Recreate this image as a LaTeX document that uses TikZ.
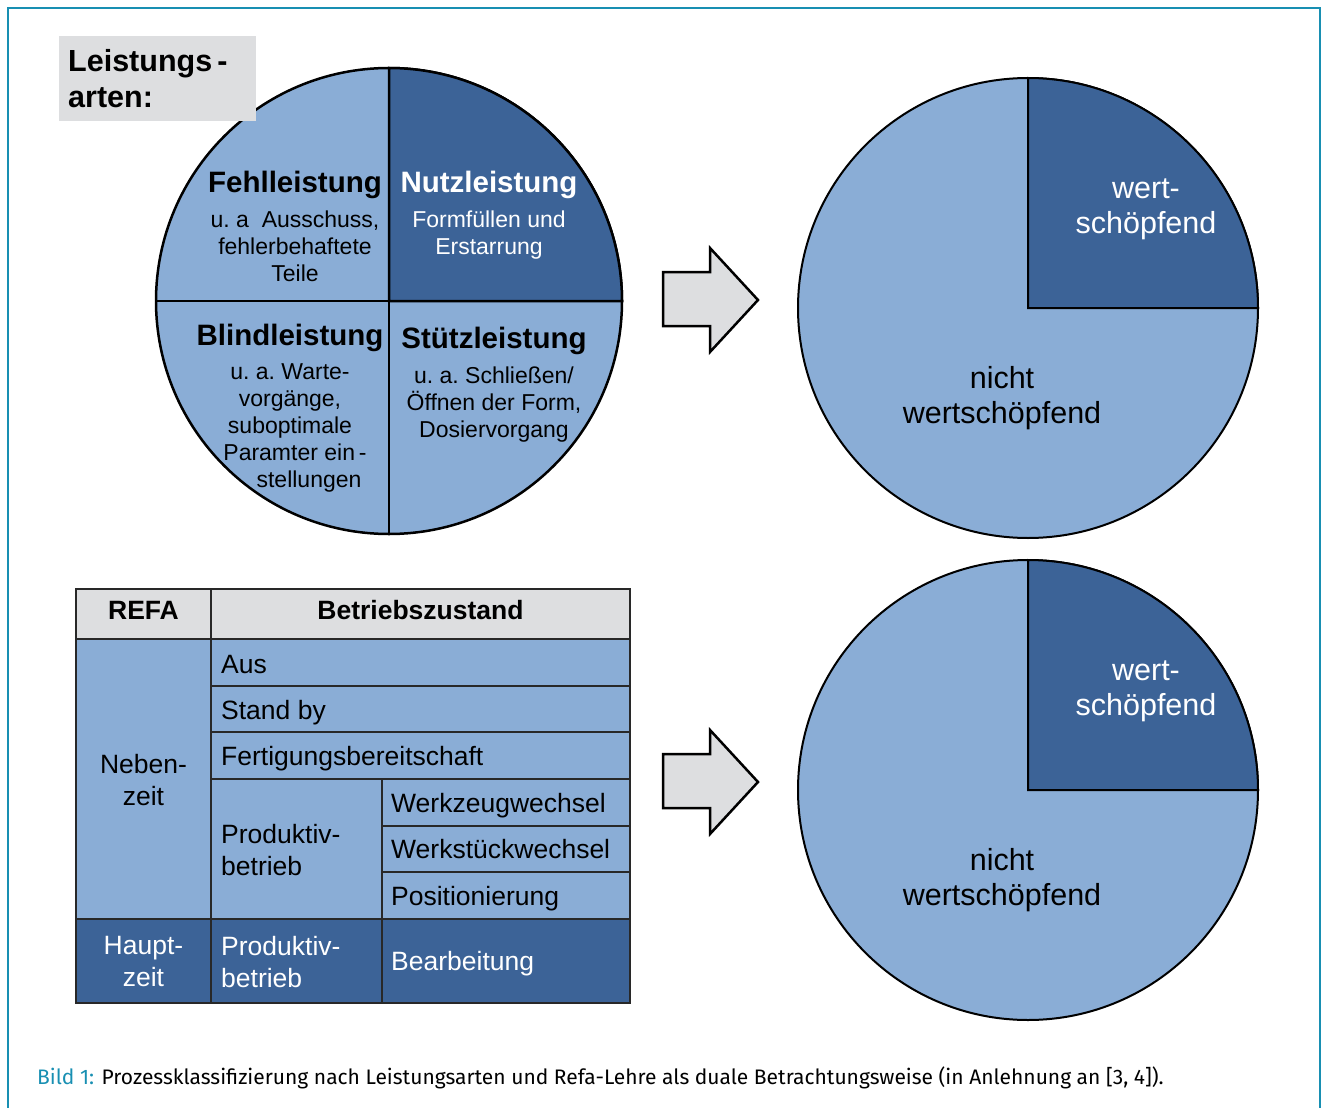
\documentclass[tikz,border=0pt]{standalone}
\usepackage{fontspec}
\setmainfont{Liberation Sans}
\newfontfamily\schmal{Fira Sans}
\usetikzlibrary{positioning}
\definecolor{hellblau}{RGB}{138,173,214}
\definecolor{dunkelblau}{RGB}{60,99,151}
\definecolor{hellgrau}{RGB}{221,222,224}
\definecolor{petrol}{RGB}{24,143,178}
\definecolor{linie}{RGB}{40,40,40}

\begin{document}
\begin{tikzpicture}[x=1pt,y=-1pt,
    kreis/.style={circle,draw=black,fill=hellblau,outer sep=0pt,inner sep=0pt},
    titel/.style={inner sep=0pt,anchor=base,font=\bfseries\fontsize{29.5}{34}\selectfont},
    beschr/.style={inner sep=0pt,align=center,font=\fontsize{23}{27}\selectfont},
    zelle/.style={inner sep=0pt,anchor=base west,font=\fontsize{26.5}{32}\selectfont},
    anteil/.style={inner sep=0pt,anchor=base,font=\fontsize{30.5}{35}\selectfont},
    pfeil/.style={draw=black,fill=hellgrau,line width=2.5pt,line join=miter},
    gitter/.style={draw=linie,line width=1.5pt}]

  \useasboundingbox (0,0) rectangle (1323,1108);
  \draw[petrol,line width=2.5pt] (8,1108) -- (8,8) -- (1320,8) -- (1320,1108);

  % Leistungsarten
  \node[kreis,line width=2.5pt,minimum size=466pt] (leist) at (389,301) {};
  \filldraw[fill=dunkelblau,line width=2.5pt] (leist.center) -- (leist.east) arc[start angle=0,end angle=90,radius=233pt] -- cycle;
  \draw[line width=2.5pt] (leist.north) -- (leist.south);
  \draw[line width=2.5pt] (leist.west) -- (leist.east);
  \node[fill=hellgrau,anchor=north west,minimum width=197pt,minimum height=85pt,text width=179pt,inner xsep=9pt,inner ysep=0pt,align=left,font=\bfseries\fontsize{30.5}{36}\selectfont] (arten) at (59,36) {Leistungs\,-\\arten:};

  \node[titel] (fehl) at (295,192) {Fehlleistung};
  \node[beschr,below=12pt of fehl] (fehltext) {u.\ a\ \ Ausschuss,\\fehlerbehaftete\\Teile};
  \node[titel,text=white] (nutz) at (489,192) {Nutzleistung};
  \node[beschr,text=white,below=12pt of nutz] (nutztext) {Formfüllen und\\Erstarrung};
  \node[titel] (blind) at (290,345) {Blindleistung};
  \node[beschr,below=12pt of blind] (blindtext) {u.\ a.\ Warte-\\vorgänge,\\suboptimale\\\hspace*{10pt}Paramter ein\,-\\\hspace*{38pt}stellungen};
  \node[titel] (stuetz) at (494,348) {Stützleistung};
  \node[beschr,below=12pt of stuetz] (stuetztext) {u.\ a.\ Schließen/\\Öffnen der Form,\\Dosiervorgang};

  % Pfeile
  \filldraw[pfeil] (663,272) -- (710,272) -- (710,248) -- (758,300) -- (710,352) -- (710,326) -- (663,326) -- cycle;
  \filldraw[pfeil] (663,754) -- (710,754) -- (710,730) -- (758,782) -- (710,834) -- (710,808) -- (663,808) -- cycle;

  % Wertschoepfung oben
  \node[kreis,line width=2pt,minimum size=460pt] (wertA) at (1028,308) {};
  \filldraw[fill=dunkelblau,line width=2pt] (wertA.center) -- (wertA.east) arc[start angle=0,end angle=90,radius=230pt] -- cycle;
  \node[anteil,text=white] (wsA1) at (1146,198) {wert-};
  \node[anteil,text=white] (wsA2) at (1146,233) {schöpfend};
  \node[anteil] (nwA1) at (1002,388) {nicht};
  \node[anteil] (nwA2) at (1002,423) {wertschöpfend};

  % Wertschoepfung unten
  \node[kreis,line width=2pt,minimum size=460pt] (wertB) at (1028,790) {};
  \filldraw[fill=dunkelblau,line width=2pt] (wertB.center) -- (wertB.east) arc[start angle=0,end angle=90,radius=230pt] -- cycle;
  \node[anteil,text=white] (wsB1) at (1146,680) {wert-};
  \node[anteil,text=white] (wsB2) at (1146,715) {schöpfend};
  \node[anteil] (nwB1) at (1002,870) {nicht};
  \node[anteil] (nwB2) at (1002,905) {wertschöpfend};

  % REFA-Tabelle
  \fill[hellgrau] (76,589) rectangle (630,639);
  \fill[hellblau] (76,639) rectangle (630,919);
  \fill[dunkelblau] (76,919) rectangle (630,1003);
  \draw[gitter] (76,589) rectangle (630,1003);
  \draw[gitter] (211,589) -- (211,1003);
  \draw[gitter] (382,779) -- (382,1003);
  \draw[gitter] (76,639) -- (630,639) (76,919) -- (630,919);
  \draw[gitter] (211,686) -- (630,686) (211,732) -- (630,732) (211,779) -- (630,779);
  \draw[gitter] (382,826) -- (630,826) (382,872) -- (630,872);

  \node[zelle,anchor=base,font=\bfseries\fontsize{26.5}{32}\selectfont] (refa) at (143.5,619) {REFA};
  \node[zelle,anchor=base,font=\bfseries\fontsize{26.5}{32}\selectfont] (zustand) at (420.5,619) {Betriebszustand};
  \node[zelle] (aus) at (221,673) {Aus};
  \node[zelle] (standby) at (221,719) {Stand by};
  \node[zelle] (fertig) at (221,765) {Fertigungsbereitschaft};
  \node[zelle] (werkzeug) at (391,812) {Werkzeugwechsel};
  \node[zelle] (werkstueck) at (391,858) {Werkstückwechsel};
  \node[zelle] (position) at (391,905) {Positionierung};
  \node[zelle,anchor=north,align=center] (neben) at (143.5,753.7) {Neben-\\zeit};
  \node[zelle,anchor=north west,align=left] (prodA) at (221,823.7) {Produktiv-\\betrieb};
  \node[zelle,anchor=north,align=center,text=white] (haupt) at (143.5,935.7) {Haupt-\\zeit};
  \node[zelle,anchor=north west,align=left,text=white] (prodB) at (221,935.7) {Produktiv-\\betrieb};
  \node[zelle,text=white] (bearb) at (391,970) {Bearbeitung};

  \node[anchor=base west,inner sep=0pt,font=\schmal\fontsize{21}{25}\selectfont] (bild) at (37,1084) {\textcolor{petrol}{Bild 1:} Prozessklassifizierung nach Leistungsarten und Refa-Lehre als duale Betrachtungsweise (in Anlehnung an [3, 4]).};
\end{tikzpicture}
\end{document}
